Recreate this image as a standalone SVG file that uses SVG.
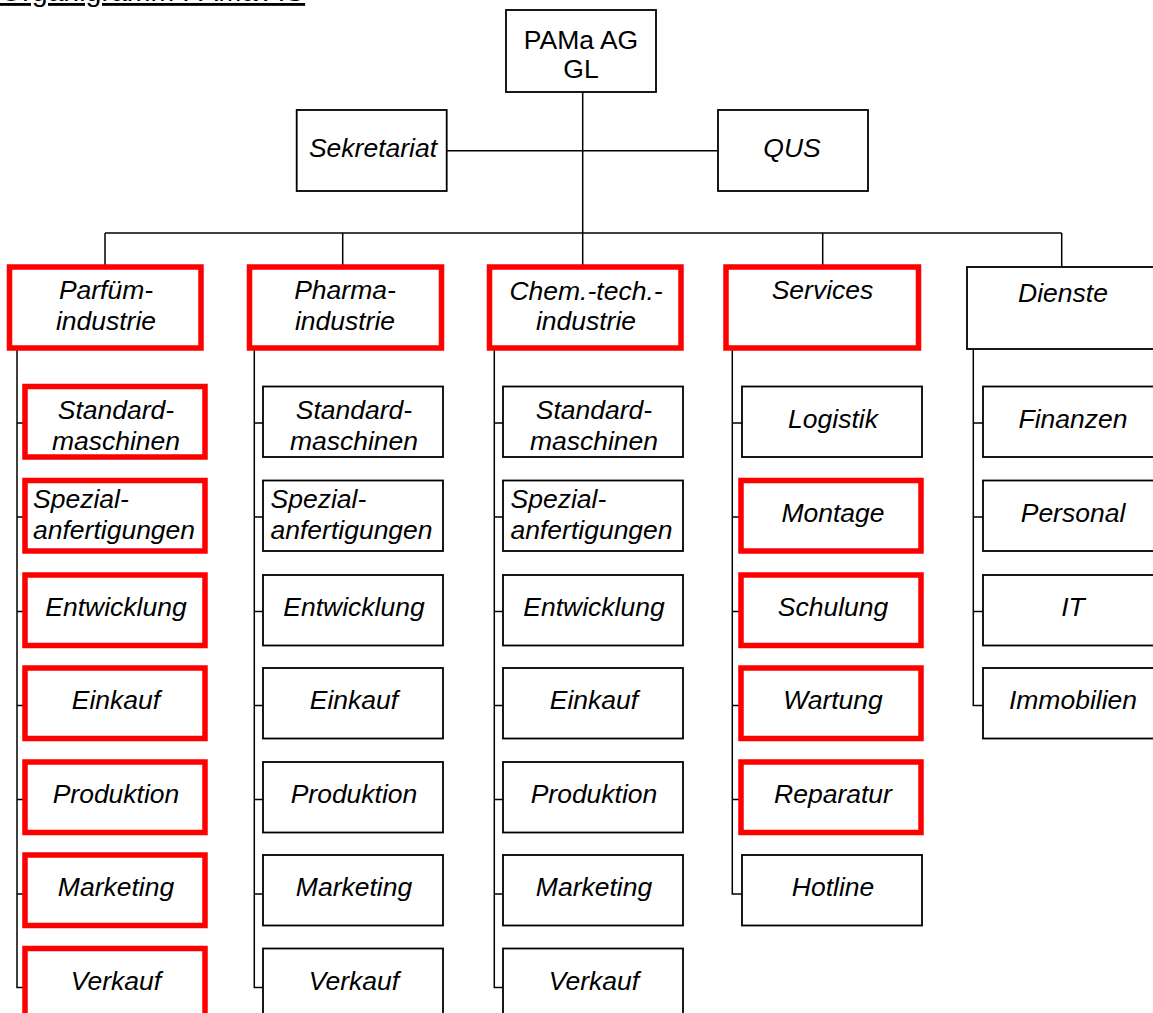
<svg xmlns="http://www.w3.org/2000/svg" width="1153" height="1013" viewBox="0 0 1153 1013">
<style>
.b{fill:#fff;stroke:#000;stroke-width:1.8}
.r{fill:#fff;stroke:#ff0000;stroke-width:5.5}
.t{font-family:"Liberation Sans",Arial,sans-serif;font-size:26.5px;font-style:italic;fill:#000;text-anchor:middle}
.tl{text-anchor:start}
.n{font-style:normal}
.c{fill:none;stroke:#000;stroke-width:1.5}
</style>
<rect width="1153" height="1013" fill="#fff"/>
<g id="title"><text x="0" y="1" style="font-family:'Liberation Sans',Arial,sans-serif;font-size:28.5px;text-decoration:underline">Organigramm PAMa AG</text></g>

<g id="connectors" class="c">
<path d="M582.7,92V233M446.7,150.7H718M105,233H1061.7M105,233V265M342.7,233V265M582.7,233V265M822.7,233V265M1061.7,233V267"/>
<path d="M17,350V987.5H25M17,423H25M17,517H25M17,611.5H25M17,705.5H25M17,799.5H25M17,894H25"/>
<path d="M254.3,350V987.5H263M254.3,423H263M254.3,517H263M254.3,611.5H263M254.3,705.5H263M254.3,799.5H263M254.3,894H263"/>
<path d="M494.3,350V987.5H503M494.3,423H503M494.3,517H503M494.3,611.5H503M494.3,705.5H503M494.3,799.5H503M494.3,894H503"/>
<path d="M732.3,350V894H742M732.3,423H742M732.3,517H742M732.3,611.5H742M732.3,705.5H742M732.3,799.5H742"/>
<path d="M973.3,347V705.5H983M973.3,423H983M973.3,517H983M973.3,611.5H983"/>
</g>

<g id="gl"><rect class="b" x="506" y="10" width="150" height="82"/><text class="t n" x="581" y="48.7">PAMa AG</text><text class="t n" x="581" y="78">GL</text></g>
<g id="sekretariat"><rect class="b" x="296.7" y="110" width="150" height="81"/><text class="t" x="373" y="157">Sekretariat</text></g>
<g id="qus"><rect class="b" x="718" y="110" width="150" height="81"/><text class="t" x="792" y="157">QUS</text></g>

<g id="parfuem"><rect class="r" x="9.5" y="267" width="191.5" height="81"/><text class="t" x="106" y="299">Parfüm-</text><text class="t" x="106" y="330">industrie</text></g>
<g id="pharma"><rect class="r" x="249.5" y="267" width="192" height="81"/><text class="t" x="345" y="299">Pharma-</text><text class="t" x="345" y="330">industrie</text></g>
<g id="chem"><rect class="r" x="489.5" y="267" width="191.5" height="81"/><text class="t" x="586" y="300">Chem.-tech.-</text><text class="t" x="586" y="330">industrie</text></g>
<g id="services"><rect class="r" x="726" y="267" width="192.5" height="81"/><text class="t" x="822.5" y="299">Services</text></g>
<g id="dienste"><rect class="b" x="967" y="267" width="194" height="82"/><text class="t" x="1063" y="301.5">Dienste</text></g>

<g id="p-standard"><rect class="r" x="25" y="386.5" width="180" height="70.5"/><text class="t" x="116" y="419">Standard-</text><text class="t" x="116" y="449.5">maschinen</text></g>
<g id="p-spezial"><rect class="r" x="25" y="480.5" width="180" height="70.5"/><text class="t tl" x="33" y="508">Spezial-</text><text class="t tl" x="33" y="538.5">anfertigungen</text></g>
<g id="p-entw"><rect class="r" x="25" y="575" width="180" height="70.5"/><text class="t" x="116" y="616">Entwicklung</text></g>
<g id="p-eink"><rect class="r" x="25" y="668" width="180" height="70.5"/><text class="t" x="116" y="709">Einkauf</text></g>
<g id="p-prod"><rect class="r" x="25" y="762" width="180" height="70.5"/><text class="t" x="116" y="803">Produktion</text></g>
<g id="p-mark"><rect class="r" x="25" y="855" width="180" height="70.5"/><text class="t" x="116" y="896">Marketing</text></g>
<g id="p-verk"><rect class="r" x="25" y="948.5" width="180" height="70.5"/><text class="t" x="116" y="989.5">Verkauf</text></g>

<g id="ph-standard"><rect class="b" x="263" y="386.5" width="180" height="70.5"/><text class="t" x="354" y="419">Standard-</text><text class="t" x="354" y="449.5">maschinen</text></g>
<g id="ph-spezial"><rect class="b" x="263" y="480.5" width="180" height="70.5"/><text class="t tl" x="270.5" y="508">Spezial-</text><text class="t tl" x="270.5" y="538.5">anfertigungen</text></g>
<g id="ph-entw"><rect class="b" x="263" y="575" width="180" height="70.5"/><text class="t" x="354" y="616">Entwicklung</text></g>
<g id="ph-eink"><rect class="b" x="263" y="668" width="180" height="70.5"/><text class="t" x="354" y="709">Einkauf</text></g>
<g id="ph-prod"><rect class="b" x="263" y="762" width="180" height="70.5"/><text class="t" x="354" y="803">Produktion</text></g>
<g id="ph-mark"><rect class="b" x="263" y="855" width="180" height="70.5"/><text class="t" x="354" y="896">Marketing</text></g>
<g id="ph-verk"><rect class="b" x="263" y="948.5" width="180" height="70.5"/><text class="t" x="354" y="989.5">Verkauf</text></g>

<g id="c-standard"><rect class="b" x="503" y="386.5" width="180" height="70.5"/><text class="t" x="594" y="419">Standard-</text><text class="t" x="594" y="449.5">maschinen</text></g>
<g id="c-spezial"><rect class="b" x="503" y="480.5" width="180" height="70.5"/><text class="t tl" x="510.5" y="508">Spezial-</text><text class="t tl" x="510.5" y="538.5">anfertigungen</text></g>
<g id="c-entw"><rect class="b" x="503" y="575" width="180" height="70.5"/><text class="t" x="594" y="616">Entwicklung</text></g>
<g id="c-eink"><rect class="b" x="503" y="668" width="180" height="70.5"/><text class="t" x="594" y="709">Einkauf</text></g>
<g id="c-prod"><rect class="b" x="503" y="762" width="180" height="70.5"/><text class="t" x="594" y="803">Produktion</text></g>
<g id="c-mark"><rect class="b" x="503" y="855" width="180" height="70.5"/><text class="t" x="594" y="896">Marketing</text></g>
<g id="c-verk"><rect class="b" x="503" y="948.5" width="180" height="70.5"/><text class="t" x="594" y="989.5">Verkauf</text></g>

<g id="s-log"><rect class="b" x="742" y="386.5" width="180" height="70.5"/><text class="t" x="833" y="427.5">Logistik</text></g>
<g id="s-mont"><rect class="r" x="741" y="480.5" width="180" height="70.5"/><text class="t" x="833" y="521.5">Montage</text></g>
<g id="s-schul"><rect class="r" x="741" y="575" width="180" height="70.5"/><text class="t" x="833" y="616">Schulung</text></g>
<g id="s-wart"><rect class="r" x="741" y="668" width="180" height="70.5"/><text class="t" x="833" y="709">Wartung</text></g>
<g id="s-rep"><rect class="r" x="741" y="762" width="180" height="70.5"/><text class="t" x="833" y="803">Reparatur</text></g>
<g id="s-hot"><rect class="b" x="742" y="855" width="180" height="70.5"/><text class="t" x="833" y="896">Hotline</text></g>

<g id="d-fin"><rect class="b" x="983" y="386.5" width="181" height="70.5"/><text class="t" x="1073" y="427.5">Finanzen</text></g>
<g id="d-pers"><rect class="b" x="983" y="480.5" width="181" height="70.5"/><text class="t" x="1073" y="521.5">Personal</text></g>
<g id="d-it"><rect class="b" x="983" y="575" width="181" height="70.5"/><text class="t" x="1073" y="616">IT</text></g>
<g id="d-immo"><rect class="b" x="983" y="668" width="181" height="70.5"/><text class="t" x="1073" y="709">Immobilien</text></g>
</svg>
